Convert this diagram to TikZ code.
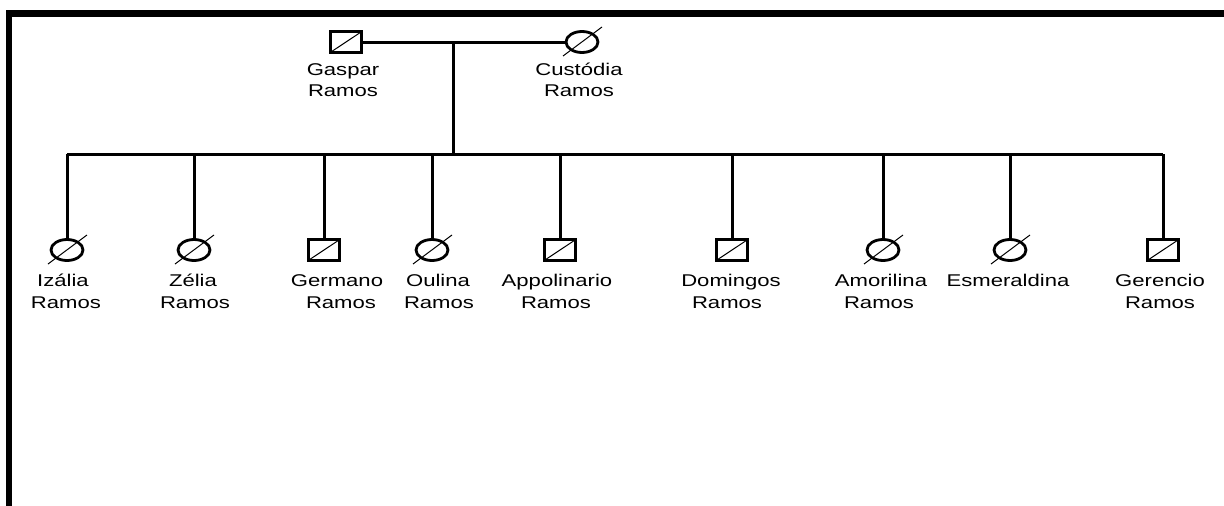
\documentclass[tikz,border=0pt]{standalone}
\usepackage{fontspec}
\newfontfamily\labfont[FakeStretch=1.3]{Liberation Sans}
\usetikzlibrary{shapes.geometric}
\tikzset{
  male/.style={draw, rectangle, line width=2.8pt, minimum width=31pt, minimum height=21pt, inner sep=0pt},
  female/.style={draw, ellipse, line width=2.8pt, minimum width=32pt, minimum height=21pt, inner sep=0pt},
  link/.style={line width=3pt},
  slash/.style={line width=1pt},
  lab/.style={font=\labfont\fontsize{17}{20}\selectfont, inner sep=0pt, anchor=base},
  frame/.style={line width=6.5pt, line join=miter}
}
\begin{document}
\begin{tikzpicture}[x=1pt,y=-1pt]
\useasboundingbox (0,0) rectangle (1224,506);
\draw[frame] (9,506) -- (9,13.5) -- (1224,13.5);

% parents
\node[male] (gaspar) at (346,42) {};
\node[female] (custodia) at (582,42) {};
\node[lab] (gasparl1) at (343,75) {Gaspar};
\node[lab] (gasparl2) at (343,96) {Ramos};
\node[lab] (custodial1) at (579,75) {Custódia};
\node[lab] (custodial2) at (579,96) {Ramos};

% children
\node[female] (izalia) at (67,250) {};
\node[female] (zelia) at (194,250) {};
\node[male] (germano) at (324,250) {};
\node[female] (oulina) at (432,250) {};
\node[male] (appolinario) at (560,250) {};
\node[male] (domingos) at (732,250) {};
\node[female] (amorilina) at (883,250) {};
\node[female] (esmeraldina) at (1010,250) {};
\node[male] (gerencio) at (1163,250) {};

% slashes
\foreach \p in {gaspar,germano,appolinario,domingos,gerencio}
  \draw[slash] ([shift={(2pt,2pt)}]\p.south west) -- ([shift={(-2pt,-2pt)}]\p.north east);
\foreach \p in {custodia,izalia,zelia,oulina,amorilina,esmeraldina}
  \draw[slash] ([shift={(-19pt,-14pt)}]\p.center) -- ([shift={(20pt,15pt)}]\p.center);

% labels
\node[lab] (izl1) at (63,286) {Izália};
\node[lab] (izl2) at (66,308) {Ramos};
\node[lab] (zel1) at (193,286) {Zélia};
\node[lab] (zel2) at (195,308) {Ramos};
\node[lab] (gel1) at (337,286) {Germano};
\node[lab] (gel2) at (341,308) {Ramos};
\node[lab] (oul1) at (438,286) {Oulina};
\node[lab] (oul2) at (439,308) {Ramos};
\node[lab] (apl1) at (557,286) {Appolinario};
\node[lab] (apl2) at (556,308) {Ramos};
\node[lab] (dol1) at (731,286) {Domingos};
\node[lab] (dol2) at (727,308) {Ramos};
\node[lab] (aml1) at (881,286) {Amorilina};
\node[lab] (aml2) at (879,308) {Ramos};
\node[lab] (esl1) at (1008,286) {Esmeraldina};
\node[lab] (grl1) at (1160,286) {Gerencio};
\node[lab] (grl2) at (1160,308) {Ramos};

% connectors
\coordinate (m) at (453,42);
\coordinate (s) at (453,154);
\draw[link] (gaspar) -- (custodia);
\draw[link] (m) -- (s);
\draw[link] (izalia |- s) -- (gerencio |- s);
\foreach \c in {izalia,zelia,germano,oulina,appolinario,domingos,amorilina,esmeraldina,gerencio}
  \draw[link] (\c |- s) -- (\c.north);
\end{tikzpicture}
\end{document}
